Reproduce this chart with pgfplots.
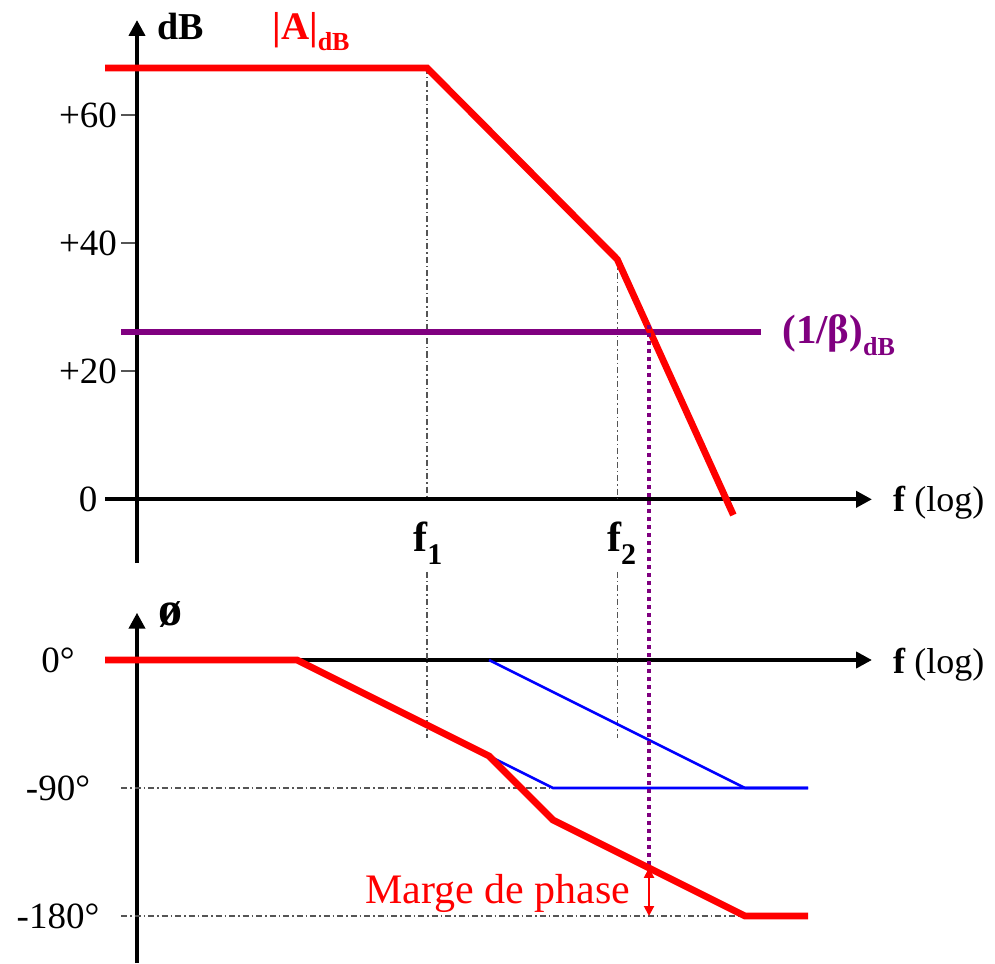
\documentclass[border=0pt]{standalone}
\usepackage{pgfplots}
\pgfplotsset{compat=1.18}
\usepackage{pgfplotstable}
\usepackage{fontspec}
\setmainfont{Liberation Serif}
\usetikzlibrary{arrows.meta}

\definecolor{cred}{HTML}{FF0000}
\definecolor{cpurple}{HTML}{800080}
\definecolor{cblue}{HTML}{0000FF}
\definecolor{cgray}{HTML}{555555}

% gain asymptote |A|_dB  (x = log f, arbitrary origin)
\pgfplotstableread{
x y
-0.25 67.4
2.266 67.4
3.752 37.5
4.659 -2.45
}\gaintable

% phase asymptote
\pgfplotstableread{
x y
-0.25 0
1.25 0
2.75 -67.5
3.25 -112.5
4.75 -180
5.242 -180
}\phasetable

\pgfplotsset{
  bode/.style={
    scale only axis, axis lines=middle, clip=false,
    width=383.5pt,
    xmin=-0.25, xmax=5.742,
    axis line style={line width=2pt, -{Triangle[length=8pt,width=8pt]}},
    xtick=\empty,
    major tick length=8pt,
    tick align=outside,
    hide obscured y ticks=false,
    yticklabel style={font=\fontsize{18.5}{21}\selectfont, anchor=center},
  },
  dashdot/.style={cgray, line width=0.75pt, dash pattern=on 3pt off 1.5pt on 0.75pt off 1.5pt},
}

\begin{document}
\begin{tikzpicture}
\useasboundingbox (0,0) rectangle (497.5pt,-481.5pt);

% ---------- gain ----------
\begin{axis}[bode,
  at={(52.5pt,-281.5pt)}, anchor=south west,
  height=271.5pt,
  ymin=-9.95, ymax=74.9,
  ytick={0,20,40,60}, yticklabels={0,+20,+40,+60},
  ytick style={cgray, line width=1pt},
  yticklabel style={xshift=-16.5pt},
]
\addplot[dashdot] coordinates {(2.266,67.4) (2.266,0)};
\addplot[dashdot] coordinates {(3.752,37.5) (3.752,0)};
\addplot[cpurple, line width=3pt] coordinates {(-0.125,26.1) (4.873,26.1)};
\addplot[cred, line width=3.4pt] table {\gaintable};

\node[anchor=base west, inner sep=0, font=\fontsize{19}{22}\selectfont\bfseries] at (axis cs:0.156,71.9) {dB};
\node[anchor=base west, inner sep=0, text=cred, font=\fontsize{19.5}{22}\selectfont\bfseries] at (axis cs:1.055,71.9) {|A|\raisebox{-0.3em}{\fontsize{13}{15}\selectfont dB}};
\node[anchor=base west, inner sep=0, text=cpurple, font=\fontsize{20.5}{24}\selectfont\bfseries] at (axis cs:5.039,24.4) {(1/β)\raisebox{-0.3em}{\fontsize{13}{15}\selectfont dB}};
\node[anchor=base west, inner sep=0, font=\fontsize{18}{22}\selectfont] at (axis cs:5.904,-1.94) {\textbf{f} (log)};
\node[anchor=base west, inner sep=0, font=\fontsize{21}{24}\selectfont\bfseries] at (axis cs:2.156,-8.23) {f\raisebox{-0.3em}{\fontsize{15}{18}\selectfont 1}};
\node[anchor=base west, inner sep=0, font=\fontsize{21}{24}\selectfont\bfseries] at (axis cs:3.669,-8.23) {f\raisebox{-0.3em}{\fontsize{15}{18}\selectfont 2}};
\end{axis}

% ---------- phase ----------
\begin{axis}[bode,
  at={(52.5pt,-481.5pt)}, anchor=south west,
  height=175.15pt,
  ymin=-213.05, ymax=33.25,
  ytick={-180,-90,0}, yticklabels={-180°,-90°,0°},
  ytick style={draw=none},
  yticklabel style={xshift=-31.5pt},
]
\addplot[dashdot] coordinates {(2.266,61.9) (2.266,-54.8)};
\addplot[dashdot] coordinates {(3.752,61.9) (3.752,-54.8)};
\addplot[dashdot] coordinates {(-0.125,-90) (3.25,-90)};
\addplot[dashdot] coordinates {(-0.125,-180) (4.75,-180)};
\addplot[cblue, line width=1.3pt] coordinates {(2.75,0) (4.75,-90) (5.242,-90)};
\addplot[cblue, line width=1.3pt] coordinates {(2.75,-67.5) (3.25,-90) (5.242,-90)};
\addplot[cpurple, line width=2pt, dash pattern=on 1.8pt off 2.2pt] coordinates {(4.0,235.5) (4.0,-146.1)};
\addplot[cred, line width=3.4pt] table {\phasetable};
\addplot[cred, line width=1pt, {Triangle[length=5pt,width=5pt]}-{Triangle[length=5pt,width=5pt]}] coordinates {(4.0,-146.1) (4.0,-180)};

\node[anchor=base west, inner sep=0, font=\fontsize{24}{28}\selectfont\bfseries] at (axis cs:0.164,24.6) {ø};
\node[anchor=base west, inner sep=0, font=\fontsize{18}{22}\selectfont] at (axis cs:5.904,-9.4) {\textbf{f} (log)};
\node[anchor=base west, inner sep=0, text=cred, font=\fontsize{21}{24}\selectfont] at (axis cs:1.781,-170.9) {Marge de phase};
\end{axis}
\end{tikzpicture}
\end{document}
